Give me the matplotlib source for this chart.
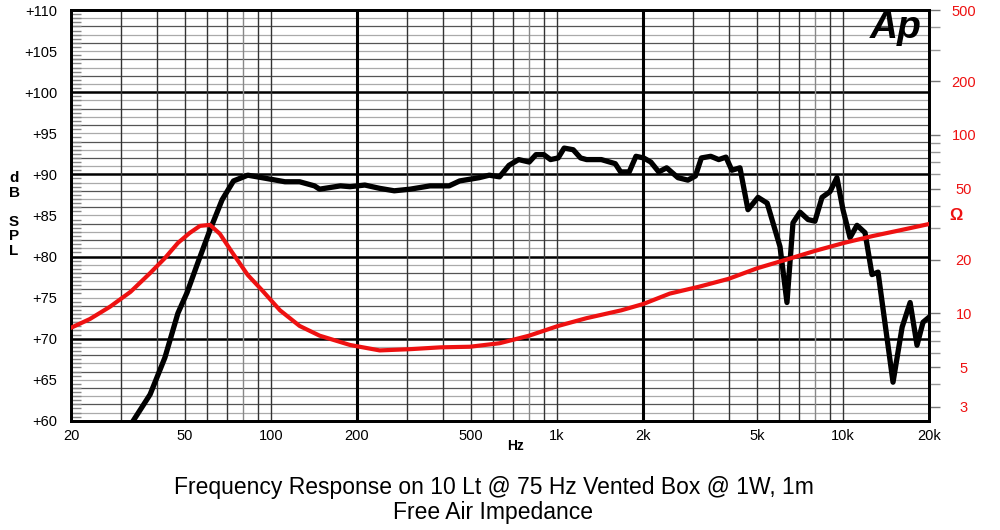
import matplotlib.pyplot as plt
from matplotlib.ticker import FixedLocator, NullFormatter, NullLocator

plt.rcParams['font.family'] = ['Liberation Sans', 'DejaVu Sans']

# SPL curve (dB) vs frequency (Hz)
spl_freq = [33, 37.8, 42.6, 47.3, 50.9, 55.6, 61.2, 67.5, 74, 83, 93, 112, 126, 142, 148,
            175, 189, 213, 240, 270, 307, 360, 420, 457, 535, 580, 630, 680, 735, 800,
            845, 900, 950, 1010, 1060, 1140, 1210, 1270, 1430, 1600, 1670, 1790, 1890,
            2010, 2130, 2270, 2420, 2650, 2870, 3050, 3200, 3450, 3680, 3900, 4090, 4366,
            4656, 5050, 5434, 6027, 6374, 6690, 7080, 7553, 7985, 8453, 9015, 9530,
            10005, 10590, 11200, 11950, 12640, 13270, 14970, 16110, 17180, 18160,
            19060, 20150]
spl_db = [60, 63.2, 67.7, 73.1, 75.6, 79.3, 83.2, 86.9, 89.2, 89.9, 89.6, 89.1, 89.1,
          88.6, 88.2, 88.6, 88.5, 88.7, 88.3, 88.0, 88.2, 88.6, 88.6, 89.2, 89.6, 89.9,
          89.7, 91.1, 91.8, 91.5, 92.4, 92.4, 91.8, 92.0, 93.2, 93.0, 92.0, 91.8, 91.8,
          91.3, 90.3, 90.3, 92.2, 92.0, 91.5, 90.3, 90.8, 89.6, 89.3, 89.8, 92.0, 92.2,
          91.8, 92.1, 90.5, 90.8, 85.7, 87.2, 86.5, 81.2, 74.4, 84.1, 85.4, 84.5, 84.3,
          87.2, 87.9, 89.6, 85.7, 82.3, 83.8, 82.9, 77.8, 78.1, 64.7, 71.4, 74.4, 69.2,
          72.0, 72.7]

# free air impedance (ohm) vs frequency (Hz)
imp_freq = [20, 23.3, 27.4, 32.3, 37.8, 42.6, 47.3, 52, 56.5, 61.2, 66.3, 73, 83, 93,
            107.6, 126, 148, 189, 240, 307, 391, 496, 630, 800, 1010, 1270, 1680, 2010,
            2480, 3140, 3980, 5020, 6340, 8000, 10080, 12700, 16000, 20100]
imp_ohm = [8.3, 9.3, 10.9, 13.2, 16.8, 20.4, 24.8, 28.2, 30.9, 31.3, 27.9, 22.1, 16.4,
           13.5, 10.4, 8.5, 7.5, 6.65, 6.2, 6.3, 6.45, 6.5, 6.8, 7.5, 8.5, 9.4, 10.4,
           11.3, 12.9, 14.1, 15.6, 17.9, 20, 22.4, 24.8, 27.1, 29.3, 31.7]

x_ticks = [20, 50, 100, 200, 500, 1000, 2000, 5000, 10000, 20000]
x_labels = ['20', '50', '100', '200', '500', '1k', '2k', '5k', '10k', '20k']
db_ticks = [60, 65, 70, 75, 80, 85, 90, 95, 100, 105, 110]
ohm_ticks = [3, 5, 10, 20, 50, 100, 200, 500]
ohm_minor = [4, 6, 7, 8, 9, 30, 40, 60, 70, 80, 90, 300, 400]

fig = plt.figure(figsize=(10, 5.3), dpi=100)
ax = fig.add_axes([0.071, 0.206, 0.858, 0.775])
ax.set_xscale('log')
ax.set_xlim(20, 20000)
ax.set_ylim(60, 110)

# grid: horizontal every 1 dB
for d in range(61, 110):
    if d % 10 == 0:
        ax.axhline(d, color='black', lw=1.8, zorder=1)
    elif d % 2 == 0:
        ax.axhline(d, color='#555555', lw=0.9, zorder=1)
    else:
        ax.axhline(d, color='#aaaaaa', lw=0.9, zorder=1)

# grid: vertical log lines
for dec in [10, 100, 1000, 10000]:
    for m in range(1, 10):
        f = dec * m
        if f <= 20 or f >= 20000:
            continue
        if f in (200, 2000):
            ax.axvline(f, color='black', lw=2.2, zorder=1)
        elif m == 8:
            ax.axvline(f, color='#888888', lw=1.0, zorder=1)
        else:
            ax.axvline(f, color='#333333', lw=1.0, zorder=1)

ax.plot(spl_freq, spl_db, color='black', lw=3.8, zorder=4, clip_on=True)

ax.set_xticks(x_ticks)
ax.set_xticklabels(x_labels)
ax.xaxis.set_minor_locator(NullLocator())
ax.tick_params(axis='x', length=0, labelsize=10.5, pad=6)
ax.set_yticks(db_ticks)
ax.set_yticklabels(['+%d' % v for v in db_ticks])
ax.yaxis.set_minor_locator(FixedLocator([v / 2 for v in range(121, 220)]))
ax.tick_params(axis='y', which='major', length=0, labelsize=10.5, pad=10)
ax.tick_params(axis='y', which='minor', direction='in', length=7, color='#888888', width=1)
for s in ax.spines.values():
    s.set_linewidth(2)
    s.set_color('black')

ax2 = ax.twinx()
ax2.set_yscale('log')
ax2.set_ylim(2.5, 500)
ax2.plot(imp_freq, imp_ohm, color='#ee1111', lw=3, zorder=5)
ax2.yaxis.set_major_locator(FixedLocator(ohm_ticks))
ax2.set_yticklabels([str(v) for v in ohm_ticks], color='#ee1111')
for lab in ax2.get_yticklabels():
    lab.set_ha('center')
ax2.yaxis.set_minor_locator(FixedLocator(ohm_minor))
ax2.yaxis.set_minor_formatter(NullFormatter())
ax2.tick_params(axis='y', which='major', length=8, width=1, color='#777777',
                labelsize=10.5, pad=17)
ax2.tick_params(axis='y', which='minor', length=8, width=1, color='#999999')
for s in ax2.spines.values():
    s.set_linewidth(2)

fig.text(0.014, 0.595, 'd\nB\n\nS\nP\nL', fontsize=11, fontweight='bold',
         ha='center', va='center', linespacing=1.05)
fig.text(0.956, 0.594, 'Ω', fontsize=12, fontweight='bold', color='#ee1111',
         ha='center', va='center')
fig.text(0.515, 0.158, 'Hz', fontsize=10, fontweight='bold', ha='center', va='center')
fig.text(0.896, 0.948, 'Ap', fontsize=28, fontweight='bold', style='italic',
         ha='center', va='center')
fig.text(0.494, 0.081, 'Frequency Response on 10 Lt @ 75 Hz Vented Box @ 1W, 1m',
         fontsize=16.5, ha='center', va='center')
fig.text(0.493, 0.033, 'Free Air Impedance', fontsize=16.5, ha='center', va='center')

fig.savefig('out.png', dpi=100)
